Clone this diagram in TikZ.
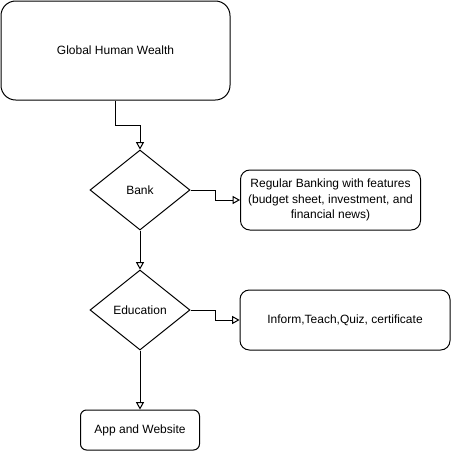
\documentclass[tikz,border=0pt]{standalone}
\usepackage{fontspec}
\setmainfont{Liberation Sans}
\usetikzlibrary{shapes.geometric,arrows.meta}

\begin{document}
\begin{tikzpicture} [x = 0.75pt, y = -0.75pt, line width = 0.75pt,
	every node/.style = {font = \fontsize{9}{11.6}\selectfont, align = center, inner sep = 0pt},
	box/.style = {draw, rectangle},
	choice/.style = {draw, diamond, minimum width = 75pt, minimum height = 60pt},
	link/.style = {-{Triangle[open, length = 5.5pt, width = 6pt]}}]
	\useasboundingbox (0,0) rectangle (451,451);
	% boxes and decisions
	\node [box, rounded corners = 11pt, minimum width = 171.75pt, minimum height = 74.25pt] (wealth) at (115.5,50.5) {Global Human Wealth};
	\node [choice] (bank) at (140,190) {Bank};
	\node [box, rounded corners = 7pt, minimum width = 135pt, minimum height = 45pt] (banking) at (330.5,200) {Regular Banking with features\\(budget sheet, investment, and\\financial news)};
	\node [choice] (education) at (140,310) {Education};
	\node [box, rounded corners = 7pt, minimum width = 157.5pt, minimum height = 45pt] (inform) at (345,320) {Inform,Teach,Quiz, certificate};
	\node [box, rounded corners = 4.5pt, minimum width = 89.25pt, minimum height = 30pt] (app) at (140,430) {App and Website};
	% connectors
	\draw [link] (wealth.south) -- ++(0,25) -| (bank.north);
	\draw [link] (bank.east) -- ++(25,0) |- (banking.west);
	\draw [link] (bank.south) -- (education.north);
	\draw [link] (education.east) -- ++(25,0) |- (inform.west);
	\draw [link] (education.south) -- (app.north);
\end{tikzpicture}
\end{document}
